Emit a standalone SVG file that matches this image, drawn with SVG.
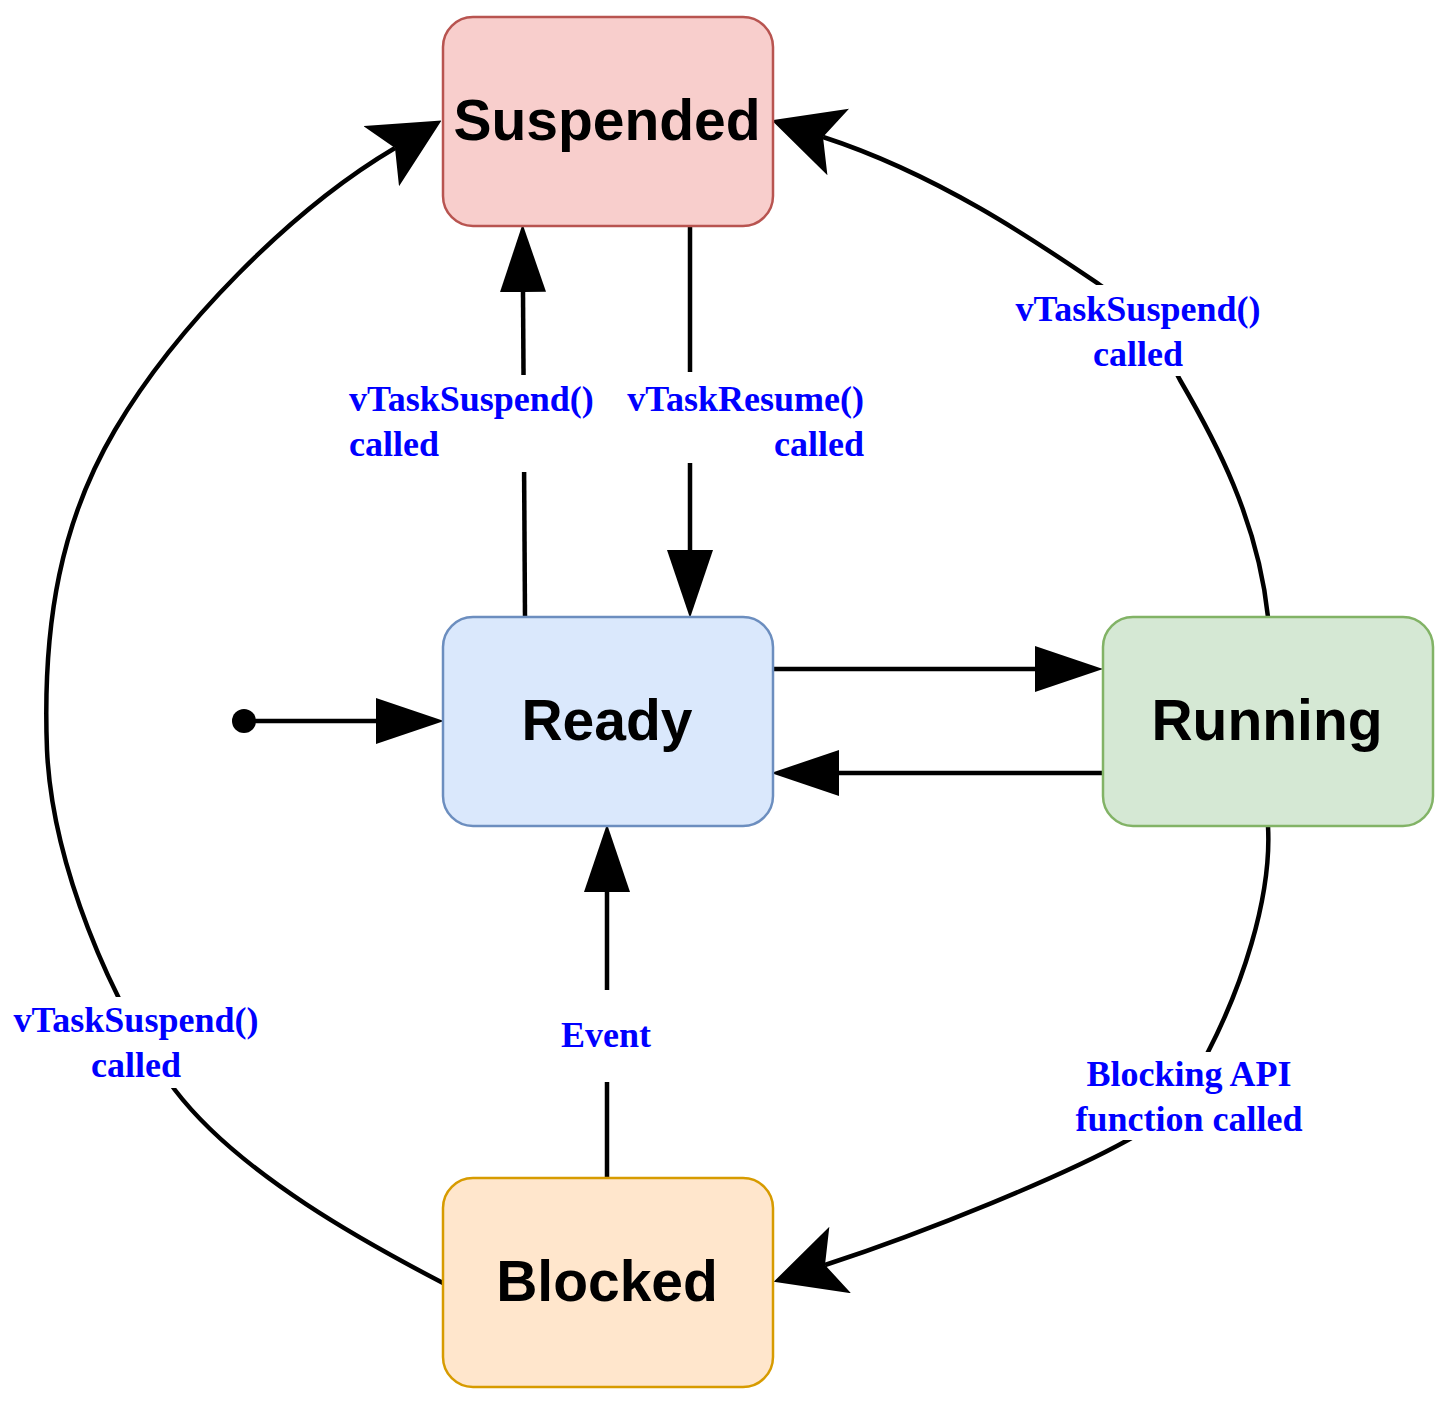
<svg xmlns="http://www.w3.org/2000/svg" width="1452" height="1407" viewBox="0 0 1452 1407">
<style>
.node{stroke-width:2.5}
.title{font-family:"Liberation Sans",Arial,sans-serif;font-weight:bold;font-size:57px;fill:#000;text-anchor:middle}
.edge{fill:none;stroke:#000;stroke-width:4.5}
.lbl{font-family:"Liberation Serif","Times New Roman",serif;font-weight:bold;font-size:36px;fill:#0000FF}
.bg{fill:#fff;stroke:none}
</style>
<defs>
<marker id="block" viewBox="0 0 68 46" refX="0" refY="23" markerWidth="68" markerHeight="46" markerUnits="userSpaceOnUse" orient="auto">
<path d="M0,0 L68,23 L0,46 Z" fill="#000"/>
</marker>
<marker id="classic" viewBox="0 0 70 70" refX="16" refY="35" markerWidth="70" markerHeight="70" markerUnits="userSpaceOnUse" orient="auto">
<path d="M0,0 L70,35 L0,70 L16,35 Z" fill="#000"/>
</marker>
</defs>
<g id="connectors">
<g id="e-ready-suspended">
<path class="edge" d="M525,617 L523,292" marker-end="url(#block)"/>
</g>
<g id="e-suspended-ready">
<path class="edge" d="M690,226 L690,550" marker-end="url(#block)"/>
</g>
<g id="e-ready-running">
<path class="edge" d="M773,669 L1035,669" marker-end="url(#block)"/>
</g>
<g id="e-running-ready">
<path class="edge" d="M1103,773 L839,773" marker-end="url(#block)"/>
</g>
<g id="e-start-ready">
<circle cx="244" cy="721" r="12" fill="#000"/>
<path class="edge" d="M244,721 L376,721" marker-end="url(#block)"/>
</g>
<g id="e-blocked-ready">
<path class="edge" d="M607,1178 L607,892" marker-end="url(#block)"/>
</g>
<g id="e-blocked-suspended">
<path class="edge" d="M443,1283 C370,1245 240,1175 175,1090 C109,1001 52,861.7 47,750 C42,620 62,520 115,430 C175,328 290,210 395,148" marker-end="url(#classic)"/>
</g>
<g id="e-running-suspended">
<path class="edge" d="M1268,617 C1258,520 1215,440 1180,380 C1152,325 1159.5,325.5 1100,285 C1040.5,244.5 940,175 823,137" marker-end="url(#classic)"/>
</g>
<g id="e-running-blocked">
<path class="edge" d="M1268,826 C1272,900 1240,990 1208,1052 C1185,1104 1192,1104.5 1128,1140 C1064,1175.5 929,1231 825,1265" marker-end="url(#classic)"/>
</g>
<g id="labels">
<rect class="bg" x="345" y="375" width="252" height="97"/>
<text class="lbl" x="349" y="411">vTaskSuspend()</text>
<text class="lbl" x="349" y="456">called</text>
<rect class="bg" x="626" y="372" width="242" height="91"/>
<text class="lbl" x="864" y="411" text-anchor="end">vTaskResume()</text>
<text class="lbl" x="864" y="456" text-anchor="end">called</text>
<rect class="bg" x="1012" y="285" width="252" height="91"/>
<text class="lbl" x="1138" y="321" text-anchor="middle">vTaskSuspend()</text>
<text class="lbl" x="1138" y="366" text-anchor="middle">called</text>
<rect class="bg" x="10" y="997" width="252" height="91"/>
<text class="lbl" x="136" y="1032" text-anchor="middle">vTaskSuspend()</text>
<text class="lbl" x="136" y="1077" text-anchor="middle">called</text>
<rect class="bg" x="556" y="990" width="101" height="92"/>
<text class="lbl" x="606" y="1047" text-anchor="middle">Event</text>
<rect class="bg" x="1071" y="1052" width="236" height="88"/>
<text class="lbl" x="1189" y="1086" text-anchor="middle">Blocking API</text>
<text class="lbl" x="1189" y="1131" text-anchor="middle">function called</text>
</g>
</g>
<g id="suspended">
<rect class="node" x="443" y="17" width="330" height="209" rx="30" fill="#f8cecc" stroke="#b85450"/>
<text class="title" x="607" y="140">Suspended</text>
</g>
<g id="ready">
<rect class="node" x="443" y="617" width="330" height="209" rx="30" fill="#dae8fc" stroke="#6c8ebf"/>
<text class="title" x="607" y="740">Ready</text>
</g>
<g id="running">
<rect class="node" x="1103" y="617" width="330" height="209" rx="30" fill="#d5e8d4" stroke="#82b366"/>
<text class="title" x="1267" y="740">Running</text>
</g>
<g id="blocked">
<rect class="node" x="443" y="1178" width="330" height="209" rx="30" fill="#ffe6cc" stroke="#d79b00"/>
<text class="title" x="607" y="1301">Blocked</text>
</g>
</svg>
